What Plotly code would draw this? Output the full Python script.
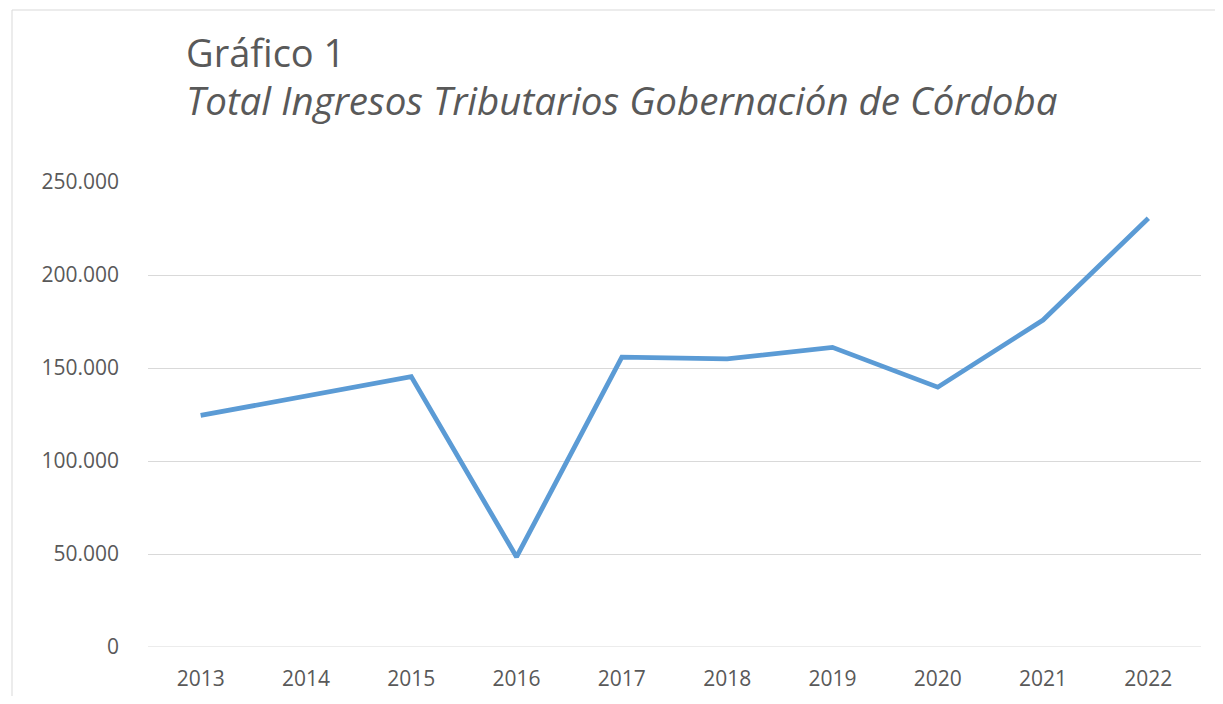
import plotly.graph_objects as go

years = ["2013", "2014", "2015", "2016", "2017", "2018", "2019", "2020", "2021", "2022"]
ingresos = [124500, 134800, 145400, 48400, 155800, 154900, 161100, 139700, 175800, 230500]
y_ticks = [0, 50000, 100000, 150000, 200000, 250000]

title_main = "Gráfico 1"
title_sub = "Total Ingresos Tributarios Gobernación de Córdoba"

OFF = 8  # page body margin
W, H = 1223 - 2 * OFF, 704 - 2 * OFF
# target positions in screen pixels
L_s, R_s, T_s, B_s = 148, 1201, 182, 647
L, T = L_s - OFF, T_s - OFF
R = W - (R_s - OFF)
B = H - (B_s - OFF)
pw, ph = W - L - R, H - T - B

def px(x):
    return (x - OFF - L) / pw

def py(y):
    return (H - B - (y - OFF)) / ph

fig = go.Figure()
fig.add_trace(go.Scatter(
    x=years, y=ingresos, mode="lines",
    line=dict(color="#5B9BD5", width=4.8),
    hoverinfo="x+y", showlegend=False,
))

font_family = "Open Sans, Liberation Sans, sans-serif"

fig.update_layout(
    width=W, height=H,
    margin=dict(l=L, r=R, t=T, b=B, pad=0, autoexpand=False),
    paper_bgcolor="white", plot_bgcolor="white",
    separators=",.",
    font=dict(family=font_family, color="#595959"),
    xaxis=dict(
        type="category", range=[-0.5, 9.5], showgrid=False, showline=False, zeroline=False,
        ticks="", tickfont=dict(size=21, color="#595959"),
        ticklabelstandoff=17, automargin=False,
    ),
    yaxis=dict(
        range=[0, 250000], tickvals=y_ticks, tickformat=",d",
        showgrid=True, gridcolor="#d9d9d9", gridwidth=1,
        zeroline=False, showline=False, ticks="",
        tickfont=dict(size=21, color="#595959"),
        ticklabelstandoff=28, automargin=False,
    ),
    annotations=[
        dict(text=title_main, x=px(184), y=py(52), xref="paper", yref="paper",
             xanchor="left", yanchor="middle", showarrow=False,
             font=dict(size=38, color="#595959", family=font_family)),
        dict(text="<i>" + title_sub + "</i>", x=px(184), y=py(100), xref="paper", yref="paper",
             xanchor="left", yanchor="middle", showarrow=False,
             font=dict(size=38.5, color="#595959", family=font_family)),
    ],
    shapes=[
        dict(type="rect", xref="paper", yref="paper",
             x0=px(12), x1=px(1230), y0=py(710), y1=py(10),
             line=dict(color="#d9d9d9", width=1), fillcolor="rgba(0,0,0,0)", layer="below"),
        dict(type="line", xref="paper", yref="y", x0=0, x1=1, y0=0, y1=0,
             line=dict(color="#d9d9d9", width=1), layer="below"),
    ],
)

fig.write_html("out.html")
